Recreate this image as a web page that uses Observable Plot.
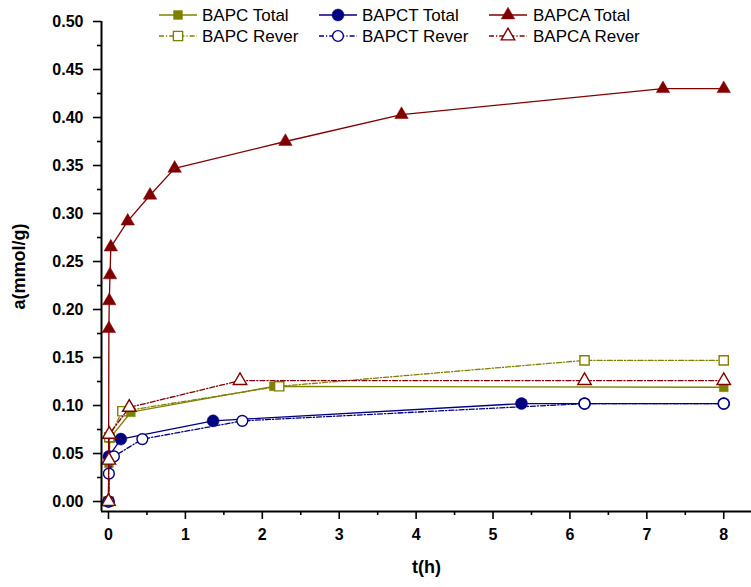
<!DOCTYPE html>
<html>
<head>
<meta charset="utf-8">
<script src="https://cdn.jsdelivr.net/npm/d3@7"></script>
<script src="https://cdn.jsdelivr.net/npm/@observablehq/plot@0.6"></script>
<style>
  body { margin: 0; background: #fff; }
  #wrap { position: relative; width: 751px; height: 587px; }
  #legend { position: absolute; left: 0; top: 0; }
</style>
</head>
<body>
<div id="wrap"></div>
<script>
// ---- data (t in hours, a in mmol/g) ----
const bapcTotalT  = [0, 0.005, 0.02, 0.29, 2.15, 8.0];
const bapcTotalA  = [0, 0.040, 0.066, 0.093, 0.120, 0.119];
const bapcReverT  = [0, 0.01, 0.18, 2.22, 6.19, 8.0];
const bapcReverA  = [0, 0.067, 0.094, 0.120, 0.147, 0.147];
const bapctTotalT = [0, 0.005, 0.16, 1.36, 5.37, 6.19, 8.0];
const bapctTotalA = [0, 0.047, 0.065, 0.084, 0.102, 0.102, 0.102];
const bapctReverT = [0, 0.005, 0.07, 0.44, 1.74, 6.19, 8.0];
const bapctReverA = [0, 0.029, 0.047, 0.065, 0.084, 0.102, 0.102];
const bapcaTotalT = [0, 0.005, 0.01, 0.02, 0.03, 0.25, 0.54, 0.86, 2.30, 3.81, 7.21, 8.0];
const bapcaTotalA = [0, 0.180, 0.209, 0.236, 0.265, 0.292, 0.319, 0.347, 0.375, 0.403, 0.430, 0.430];
const bapcaReverT = [0, 0.005, 0.01, 0.27, 1.71, 6.19, 8.0];
const bapcaReverA = [0, 0.043, 0.070, 0.098, 0.126, 0.126, 0.126];

const seriesNames = ["BAPC Total", "BAPC Rever", "BAPCT Total", "BAPCT Rever", "BAPCA Total", "BAPCA Rever"];
const xTicks = [0, 1, 2, 3, 4, 5, 6, 7, 8];
const xMinorTicks = [0.5, 1.5, 2.5, 3.5, 4.5, 5.5, 6.5, 7.5];
const yTicks = [0, 0.05, 0.10, 0.15, 0.20, 0.25, 0.30, 0.35, 0.40, 0.45, 0.50];
const yMinorTicks = [0.025, 0.075, 0.125, 0.175, 0.225, 0.275, 0.325, 0.375, 0.425, 0.475];
const xDomain = [-0.091, 8.361];
const yDomain = [-0.0104, 0.5];

// ---- styles ----
const OLIVE = "#808000", NAVY = "#000080", DRED = "#800000";
const DASH = "5,2,1.2,2";
const styles = [
  {color: OLIVE, symbol: "square",   filled: true,  dash: null, r: 5.0},
  {color: OLIVE, symbol: "square",   filled: false, dash: DASH, r: 5.2},
  {color: NAVY,  symbol: "circle",   filled: true,  dash: null, r: 6.0},
  {color: NAVY,  symbol: "circle",   filled: false, dash: DASH, r: 5.4},
  {color: DRED,  symbol: "triangle", filled: true,  dash: null, r: 5.0},
  {color: DRED,  symbol: "triangle", filled: false, dash: DASH, r: 5.0}
];
const seriesT = [bapcTotalT, bapcReverT, bapctTotalT, bapctReverT, bapcaTotalT, bapcaReverT];
const seriesA = [bapcTotalA, bapcReverA, bapctTotalA, bapctReverA, bapcaTotalA, bapcaReverA];

const seriesMarks = [];
seriesNames.forEach((name, i) => {
  const s = styles[i];
  const data = seriesT[i].map((t, j) => ({t, a: seriesA[i][j], name}));
  seriesMarks.push(Plot.line(data, {x: "t", y: "a", stroke: s.color, strokeWidth: 1.3,
    strokeDasharray: s.dash || undefined}));
  seriesMarks.push(Plot.dot(data, {x: "t", y: "a", symbol: () => s.symbol, r: s.r,
    fill: s.filled ? s.color : "white", stroke: s.color, strokeWidth: s.filled ? 0.5 : 1.4}));
});

const tickFont = {fontSize: 16, fontWeight: "bold"};

const chart = Plot.plot({
  width: 751, height: 587,
  marginLeft: 101, marginRight: 0, marginTop: 21, marginBottom: 76,
  style: {fontFamily: "'Liberation Sans', Arial, sans-serif", color: "#000", background: "#fff"},
  x: {domain: xDomain},
  y: {domain: yDomain},
  symbol: {type: "identity"},
  marks: [
    ...seriesMarks,
    Plot.ruleY([yDomain[0]], {stroke: "#000", strokeWidth: 2}),
    Plot.ruleX([xDomain[0]], {stroke: "#000", strokeWidth: 2}),
    Plot.axisX({ticks: xTicks, tickSize: 8, tickPadding: 9, tickFormat: d3.format("d"),
      strokeWidth: 1.6, ...tickFont,
      label: "t(h)", labelAnchor: "center", labelOffset: 61, labelArrow: "none"}),
    Plot.axisX({ticks: xMinorTicks, tickSize: 4, strokeWidth: 1.6, tickFormat: () => "", label: null}),
    Plot.axisY({ticks: yTicks, tickSize: 8, tickPadding: 10, tickFormat: d3.format(".2f"),
      strokeWidth: 1.6, ...tickFont,
      label: "a(mmol/g)", labelAnchor: "center", labelOffset: 89, labelArrow: "none"}),
    Plot.axisY({ticks: yMinorTicks, tickSize: 4, strokeWidth: 1.6, tickFormat: () => "", label: null})
  ]
});

chart.querySelectorAll("g[aria-label='x-axis label'] text, g[aria-label='y-axis label'] text")
  .forEach(t => { t.setAttribute("font-size", 18); t.setAttribute("font-weight", "bold"); });

const wrap = document.getElementById("wrap");
wrap.appendChild(chart);

// ---- legend overlay ----
const legendRows = [15, 36];
const legendCols = [{x0: 159, x1: 197, tx: 202}, {x0: 319, x1: 357, tx: 362}, {x0: 489, x1: 527, tx: 533}];
const lg = d3.select(wrap).append("svg").attr("id", "legend").attr("width", 751).attr("height", 50)
  .style("font-family", "'Liberation Sans', Arial, sans-serif");
const symMap = {square: d3.symbolSquare, circle: d3.symbolCircle, triangle: d3.symbolTriangle};
seriesNames.forEach((name, i) => {
  const s = styles[i];
  const col = legendCols[Math.floor(i / 2)];
  const y = legendRows[i % 2];
  const cx = (col.x0 + col.x1) / 2;
  lg.append("line").attr("x1", col.x0).attr("x2", col.x1).attr("y1", y).attr("y2", y)
    .attr("stroke", s.color).attr("stroke-width", 1.3)
    .attr("stroke-dasharray", s.dash || null);
  lg.append("path").attr("d", d3.symbol(symMap[s.symbol], Math.PI * s.r * s.r)())
    .attr("transform", `translate(${cx},${y})`)
    .attr("fill", s.filled ? s.color : "white").attr("stroke", s.color)
    .attr("stroke-width", s.filled ? 0.5 : 1.4);
  lg.append("text").attr("x", col.tx).attr("y", y).attr("dy", "0.36em")
    .attr("font-size", 17).attr("fill", "#000").text(name);
});
</script>
</body>
</html>
